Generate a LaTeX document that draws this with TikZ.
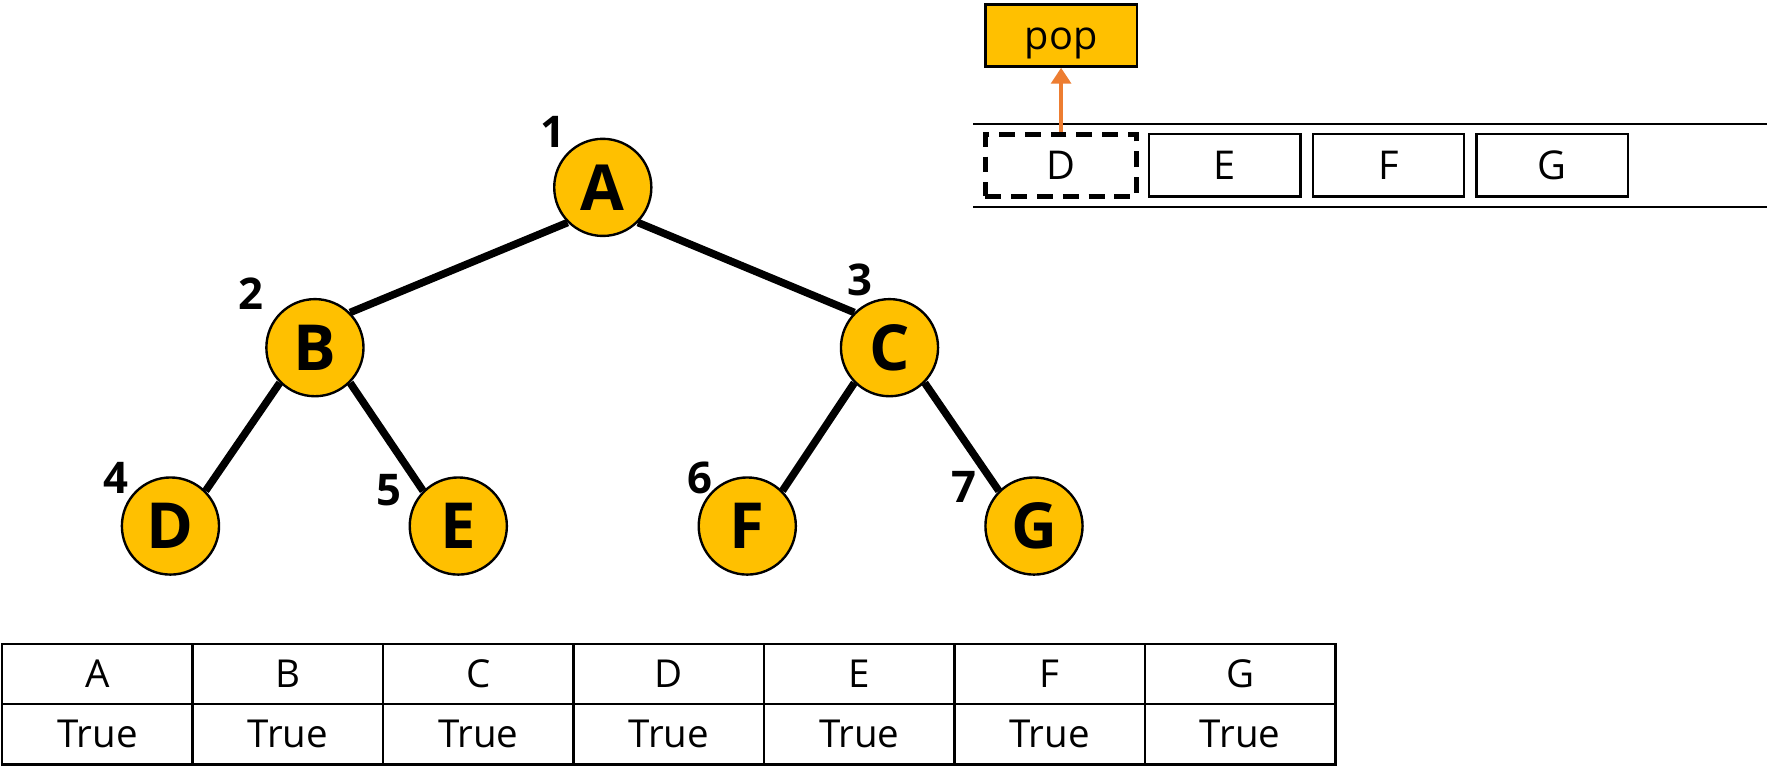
\documentclass[tikz,border=0pt]{standalone}
\usepackage{fontspec}
\setmainfont{Open Sans}
\usetikzlibrary{arrows.meta}
\definecolor{nodeyellow}{HTML}{FFC000}
\definecolor{poporange}{HTML}{ED7D31}
\tikzset{
  treenode/.style={circle,draw,line width=0.6pt,fill=nodeyellow,inner sep=0pt,minimum size=0.86cm,font=\fontsize{16}{18}\selectfont\bfseries},
  numlabel/.style={font=\fontsize{11}{13}\selectfont\bfseries},
  edge/.style={line width=1.9pt},
  qbox/.style={draw,line width=0.6pt,inner sep=0pt,minimum width=1.34cm,minimum height=0.55cm,font=\fontsize{10}{12}\selectfont},
  cell/.style={draw,line width=0.6pt,inner sep=0pt,outer sep=0pt,minimum width=1.687cm,minimum height=0.535cm,font=\fontsize{9.7}{12}\selectfont}
}
\begin{document}
\begin{tikzpicture}[x=0.01cm,y=-0.01cm]
            \useasboundingbox (0,0) rectangle (1568,691);

            \node[treenode] (nA) at (534, 166) {A};
            \node[treenode] (nB) at (279, 308) {B};
            \node[treenode] (nC) at (788, 308) {C};
            \node[treenode] (nD) at (151, 466) {D};
            \node[treenode] (nE) at (406, 466) {E};
            \node[treenode] (nF) at (662, 466) {F};
            \node[treenode] (nG) at (916, 466) {G};

            \node[numlabel] at (490, 117) {1};
            \node[numlabel] at (222, 260) {2};
            \node[numlabel] at (762, 248) {3};
            \node[numlabel] at (103, 423) {4};
            \node[numlabel] at (345, 434) {5};
            \node[numlabel] at (620, 423) {6};
            \node[numlabel] at (854, 431) {7};

            \draw[edge] (nA.south west) -- (nB.north east);
            \draw[edge] (nA.south east) -- (nC.north west);
            \draw[edge] (nB.south west) -- (nD.north east);
            \draw[edge] (nB.south east) -- (nE.north west);
            \draw[edge] (nC.south west) -- (nF.north east);
            \draw[edge] (nC.south east) -- (nG.north west);

            % queue
            \draw[line width=0.5pt] (862, 110) -- (1565, 110);
            \draw[line width=0.5pt] (862, 183) -- (1565, 183);
            \node[qbox,line width=1.2pt,dash pattern=on 4pt off 2.5pt] (qD) at (940, 146.5) {D};
            \node[qbox] (qE) at (1085, 146.5) {E};
            \node[qbox] (qF) at (1230, 146.5) {F};
            \node[qbox] (qG) at (1375, 146.5) {G};
            \node[qbox,fill=nodeyellow,text height=7pt,text depth=0pt] (pop) at (940, 31.5) {pop};
            \draw[-{Triangle[width=5pt,length=4pt]},line width=0.9pt,poporange] (qD) -- (pop);

            % visited table
            \node[cell] (tA) at (86.4, 597) {A};
            \node[cell] (tB) at (255.0, 597) {B};
            \node[cell] (tC) at (423.8, 597) {C};
            \node[cell] (tD) at (592.5, 597) {D};
            \node[cell] (tE) at (761.2, 597) {E};
            \node[cell] (tF) at (929.9, 597) {F};
            \node[cell] (tG) at (1098.6, 597) {G};
            \node[cell] (vA) at (86.4, 650.5) {True};
            \node[cell] (vB) at (255.0, 650.5) {True};
            \node[cell] (vC) at (423.8, 650.5) {True};
            \node[cell] (vD) at (592.5, 650.5) {True};
            \node[cell] (vE) at (761.2, 650.5) {True};
            \node[cell] (vF) at (929.9, 650.5) {True};
            \node[cell] (vG) at (1098.6, 650.5) {True};

        \end{tikzpicture}
\end{document}
